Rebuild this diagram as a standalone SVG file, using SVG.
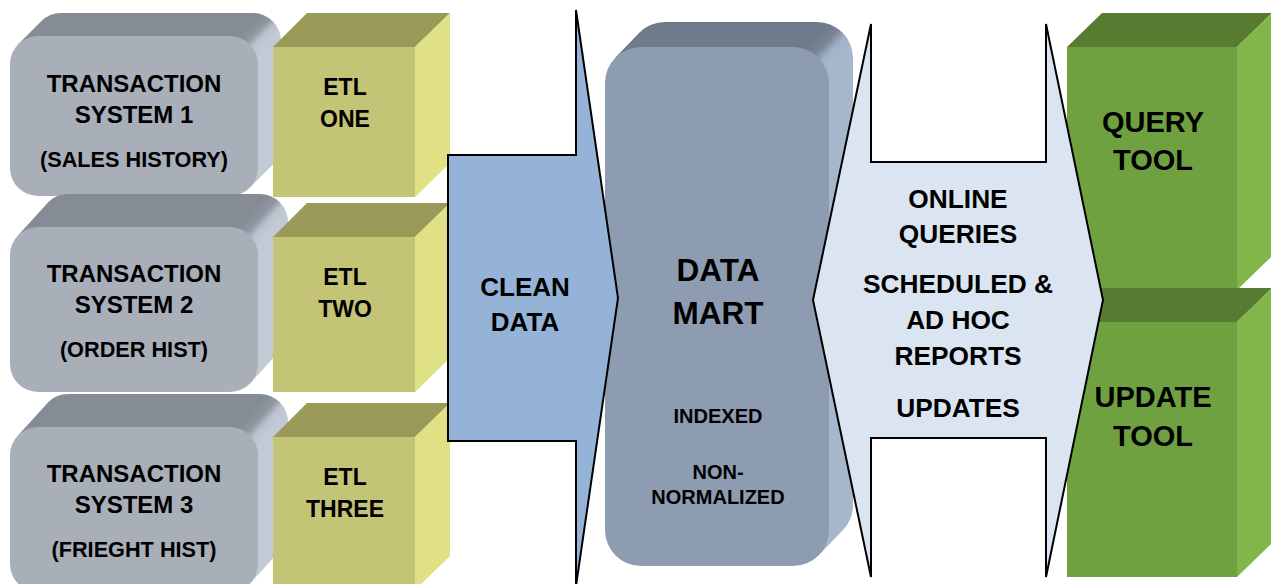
<svg xmlns="http://www.w3.org/2000/svg" width="1271" height="584" viewBox="0 0 1271 584">
<defs>
<style>
text{font-family:"Liberation Sans",Arial,sans-serif;font-weight:bold;fill:#000;text-anchor:middle}
.tsf{fill:#a8afb9}
.etlf{fill:#c4c476}.etlt{fill:#999958}.etlr{fill:#e0e085}
.grf{fill:#70a140}.grt{fill:#577c31}.grr{fill:#81b64b}
.dmf{fill:#8d9cb0}
.arr{stroke:#000;stroke-width:2;stroke-linejoin:miter}
.t23{font-size:24px}.t21{font-size:21.7px}.tE{font-size:23px}.t25{font-size:26px}.t31{font-size:31.5px}.t20{font-size:20px}.t26{font-size:26.3px}.t29{font-size:29px}
</style>
<linearGradient id="g1" gradientUnits="userSpaceOnUse" x1="239.9" y1="34.3" x2="259.7" y2="54.1">
<stop offset="0" stop-color="#858c96"/><stop offset="0.35" stop-color="#8f96a0"/><stop offset="0.65" stop-color="#bcc4d0"/><stop offset="1" stop-color="#c2cad6"/>
</linearGradient>
<linearGradient id="g2" gradientUnits="userSpaceOnUse" x1="239.4" y1="225.8" x2="260.2" y2="244.6">
<stop offset="0" stop-color="#858c96"/><stop offset="0.35" stop-color="#8f96a0"/><stop offset="0.65" stop-color="#bcc4d0"/><stop offset="1" stop-color="#c2cad6"/>
</linearGradient>
<linearGradient id="g3" gradientUnits="userSpaceOnUse" x1="239.4" y1="425.8" x2="260.2" y2="444.6">
<stop offset="0" stop-color="#858c96"/><stop offset="0.35" stop-color="#8f96a0"/><stop offset="0.65" stop-color="#bcc4d0"/><stop offset="1" stop-color="#c2cad6"/>
</linearGradient>
<linearGradient id="gdm" gradientUnits="userSpaceOnUse" x1="807" y1="46.5" x2="830" y2="68.5">
<stop offset="0" stop-color="#6f7b8b"/><stop offset="0.35" stop-color="#7a8696"/><stop offset="0.65" stop-color="#a1b2c7"/><stop offset="1" stop-color="#a6b6cb"/>
</linearGradient>
</defs>
<rect width="1271" height="584" fill="#fff"/>

<g id="ts1">
<path fill="url(#g1)" d="M18.2,44.2 L41.2,21.2 A28,28 0 0 1 61,13 L253,13 A28,28 0 0 1 281,41 L281,145 A28,28 0 0 1 272.8,164.8 L249.8,187.8 Z"/>
<rect class="tsf" x="10" y="36" width="248" height="160" rx="28"/>
<text class="t23" x="134" y="92">TRANSACTION</text>
<text class="t23" x="134" y="123">SYSTEM 1</text>
<text class="t21" x="134" y="167">(SALES HISTORY)</text>
</g>
<g id="ts2">
<path fill="url(#g2)" d="M18.2,235.2 L48.2,202.2 A28,28 0 0 1 68,194 L260,194 A28,28 0 0 1 288,222 L288,331 A28,28 0 0 1 279.8,350.8 L249.8,383.8 Z"/>
<rect class="tsf" x="10" y="227" width="248" height="165" rx="28"/>
<text class="t23" x="134" y="282">TRANSACTION</text>
<text class="t23" x="134" y="313">SYSTEM 2</text>
<text class="t21" x="134" y="357">(ORDER HIST)</text>
</g>
<g id="ts3">
<path fill="url(#g3)" d="M18.2,435.2 L48.2,402.2 A28,28 0 0 1 68,394 L260,394 A28,28 0 0 1 288,422 L288,531 A28,28 0 0 1 279.8,550.8 L249.8,583.8 Z"/>
<rect class="tsf" x="10" y="427" width="248" height="165" rx="28"/>
<text class="t23" x="134" y="482">TRANSACTION</text>
<text class="t23" x="134" y="513">SYSTEM 3</text>
<text class="t21" x="134" y="557">(FRIEGHT HIST)</text>
</g>

<g id="etl1">
<polygon class="etlt" points="273,47 307,13 450,13 415,47"/>
<polygon class="etlr" points="415,47 450,13 450,163 415,197"/>
<rect class="etlf" x="273" y="47" width="142" height="150"/>
<text class="tE" x="345" y="95">ETL</text>
<text class="tE" x="345" y="127">ONE</text>
</g>
<g id="etl2">
<polygon class="etlt" points="273,237 307,203 450,203 415,237"/>
<polygon class="etlr" points="415,237 450,203 450,358 415,392"/>
<rect class="etlf" x="273" y="237" width="142" height="155"/>
<text class="tE" x="345" y="285">ETL</text>
<text class="tE" x="345" y="317">TWO</text>
</g>
<g id="etl3">
<polygon class="etlt" points="273,437 307,403 450,403 415,437"/>
<polygon class="etlr" points="415,437 450,403 450,556 415,590"/>
<rect class="etlf" x="273" y="437" width="142" height="153"/>
<text class="tE" x="345" y="485">ETL</text>
<text class="tE" x="345" y="517">THREE</text>
</g>

<g id="datamart">
<path fill="url(#gdm)" d="M615.5,57.5 L639.5,32.5 A36,36 0 0 1 665,22 L817,22 A36,36 0 0 1 853,58 L853,505 A36,36 0 0 1 842.5,530.5 L818.5,555.5 Z"/>
<rect class="dmf" x="605" y="47" width="224" height="519" rx="36"/>
<text class="t31" x="718" y="281">DATA</text>
<text class="t31" x="718" y="324">MART</text>
<text class="t20" x="718" y="423">INDEXED</text>
<text class="t20" x="718" y="479">NON-</text>
<text class="t20" x="718" y="504">NORMALIZED</text>
</g>

<g id="querytool">
<polygon class="grt" points="1067,47 1102,13 1272,13 1237,47"/>
<polygon class="grr" points="1237,47 1272,13 1272,256 1237,290"/>
<rect class="grf" x="1067" y="47" width="170" height="243"/>
<text class="t29" x="1153" y="132">QUERY</text>
<text class="t29" x="1153" y="170">TOOL</text>
</g>
<g id="updatetool">
<polygon class="grt" points="1067,322 1102,288 1272,288 1237,322"/>
<polygon class="grr" points="1237,322 1272,288 1272,543 1237,577"/>
<rect class="grf" x="1067" y="322" width="170" height="255"/>
<text class="t29" x="1153" y="407">UPDATE</text>
<text class="t29" x="1153" y="446">TOOL</text>
</g>

<g id="connectors">
<g id="cleandata">
<path class="arr" fill="#95b3d7" d="M448,155 L576,155 L576,10 L618,298 L576,586 L576,441 L448,441 Z"/>
<text class="t25" x="525" y="296">CLEAN</text>
<text class="t25" x="525" y="331">DATA</text>
</g>
<g id="access">
<path class="arr" fill="#dbe5f1" d="M813,300 L871,24 L871,162 L1046,162 L1046,24 L1103,300 L1046,577 L1046,438 L871,438 L871,577 Z"/>
<text class="t26" x="958" y="208">ONLINE</text>
<text class="t26" x="958" y="243">QUERIES</text>
<text class="t26" x="958" y="293">SCHEDULED &amp;</text>
<text class="t26" x="958" y="329">AD HOC</text>
<text class="t26" x="958" y="365">REPORTS</text>
<text class="t26" x="958" y="417">UPDATES</text>
</g>
</g>
</svg>
